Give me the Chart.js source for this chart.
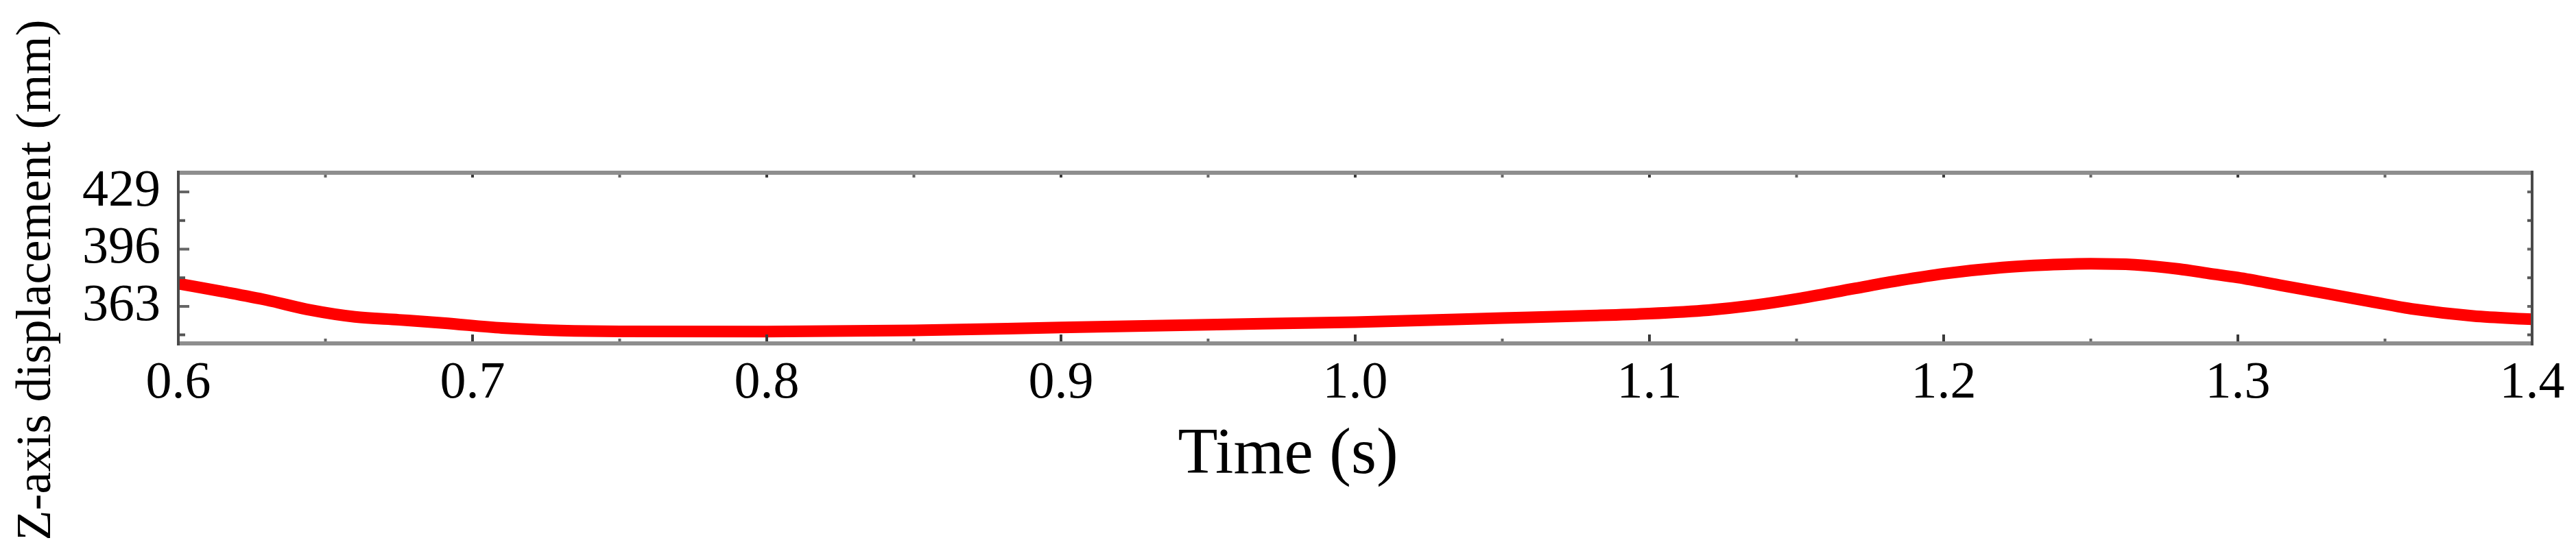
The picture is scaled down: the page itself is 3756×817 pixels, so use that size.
<!DOCTYPE html>
<html>
<head>
<meta charset="utf-8">
<title>Z-axis displacement</title>
<script src="https://cdn.jsdelivr.net/npm/chart.js@4.4.1/dist/chart.umd.min.js"></script>
<style>
    html, body { margin: 0; padding: 0; background: #fff; }
    #wrap { width: 3756px; height: 817px; }
</style>
</head>
<body>
<div id="wrap"><canvas id="chart" width="3756" height="817"></canvas></div>
<script>
// Values
const timeValues = [0.6, 0.615, 0.63, 0.645, 0.66, 0.675, 0.69, 0.71, 0.73, 0.75,
    0.8, 0.85, 0.9, 0.95, 1.0, 1.05, 1.08, 1.1, 1.12, 1.135, 1.15, 1.17, 1.185,
    1.2, 1.22, 1.235, 1.25, 1.265, 1.28, 1.29, 1.3, 1.315, 1.33, 1.345, 1.36, 1.38, 1.4];
const zDisplacement = [376.1, 371.5, 366.6, 360.8, 356.9, 355.2, 353.4, 350.5, 349.0, 348.5,
    348.4, 349.1, 350.8, 352.4, 353.9, 356.2, 357.6, 358.8, 360.8, 363.5, 367.3, 373.4, 377.9,
    381.8, 385.4, 386.9, 387.6, 387.0, 384.5, 382.0, 379.6, 375.0, 370.4, 365.8, 361.3, 357.4, 355.5];

const xTickValues = [0.6, 0.7, 0.8, 0.9, 1.0, 1.1, 1.2, 1.3, 1.4];
const xMinorTicks = [0.65, 0.75, 0.85, 0.95, 1.05, 1.15, 1.25, 1.35];
const yTickValues = [363, 396, 429];
const yMinorTicks = [346.5, 379.5, 412.5];

const serif = 'Liberation Serif';

// Mathematica-like frame with inward ticks on all four sides
const framePlugin = {
    id: 'frame',
    afterDatasetsDraw(chart) {
        const { ctx, chartArea: a, scales } = chart;
        const x = scales.x;
        const y = scales.y;
        ctx.save();
        ctx.lineWidth = 4;

        const vTick = (v, lenBottom, lenTop, color) => {
            const px = x.getPixelForValue(v);
            ctx.strokeStyle = color;
            ctx.beginPath();
            ctx.moveTo(px, a.bottom);
            ctx.lineTo(px, a.bottom - lenBottom);
            ctx.moveTo(px, a.top);
            ctx.lineTo(px, a.top + lenTop);
            ctx.stroke();
        };
        const hTick = (v, lenLeft, lenRight, color) => {
            const py = y.getPixelForValue(v);
            ctx.strokeStyle = color;
            ctx.beginPath();
            ctx.moveTo(a.left, py);
            ctx.lineTo(a.left + lenLeft, py);
            ctx.moveTo(a.right, py);
            ctx.lineTo(a.right - lenRight, py);
            ctx.stroke();
        };
        xTickValues.forEach(v => vTick(v, 13, 7, '#3a3a3a'));
        xMinorTicks.forEach(v => vTick(v, 7, 7, '#666'));
        yTickValues.forEach(v => hTick(v, 16, 7, '#666'));
        yMinorTicks.forEach(v => hTick(v, 10, 7, '#555'));

        // frame
        ctx.strokeStyle = '#8e8e8e';
        ctx.lineWidth = 6;
        ctx.beginPath();
        ctx.moveTo(a.left, a.top);
        ctx.lineTo(a.right, a.top);
        ctx.moveTo(a.left, a.bottom);
        ctx.lineTo(a.right, a.bottom);
        ctx.stroke();
        ctx.strokeStyle = '#4a4a4a';
        ctx.lineWidth = 4;
        ctx.beginPath();
        ctx.moveTo(a.left, a.top - 3);
        ctx.lineTo(a.left, a.bottom + 3);
        ctx.moveTo(a.right, a.top - 3);
        ctx.lineTo(a.right, a.bottom + 3);
        ctx.stroke();
        ctx.restore();
    }
};

const points = timeValues.map((t, i) => ({ x: t, y: zDisplacement[i] }));

new Chart(document.getElementById('chart'), {
    type: 'line',
    data: {
        datasets: [{
            data: points,
            borderColor: '#ff0000',
            borderWidth: 17,
            pointRadius: 0,
            cubicInterpolationMode: 'monotone',
            clip: 0,
            fill: false
        }]
    },
    options: {
        responsive: false,
        animation: false,
        devicePixelRatio: 1,
        layout: { padding: 0 },
        scales: {
            x: {
                type: 'linear',
                position: 'bottom',
                min: 0.6,
                max: 1.4,
                afterBuildTicks: s => { s.ticks = xTickValues.map(v => ({ value: v })); },
                afterFit: s => { s.height = 107; },
                ticks: {
                    color: '#000',
                    padding: 5,
                    maxRotation: 0,
                    autoSkip: false,
                    font: { family: serif, size: 76 },
                    callback: v => Number(v).toFixed(1)
                },
                grid: { display: false },
                border: { display: false }
            },
            xTop: {
                type: 'linear',
                position: 'top',
                min: 0.6,
                max: 1.4,
                afterFit: s => { s.height = 252; },
                ticks: { display: false },
                grid: { display: false },
                border: { display: false }
            },
            y: {
                type: 'linear',
                position: 'left',
                min: 341.6,
                max: 440.1,
                afterBuildTicks: s => { s.ticks = yTickValues.map(v => ({ value: v })); },
                afterFit: s => { s.width = 152.6; },
                ticks: {
                    color: '#000',
                    padding: 18,
                    autoSkip: false,
                    font: { family: serif, size: 76 },
                    callback: v => String(v)
                },
                grid: { display: false },
                border: { display: false }
            },
            yRight: {
                type: 'linear',
                position: 'right',
                min: 341.6,
                max: 440.1,
                afterFit: s => { s.width = 64; },
                ticks: { display: false },
                grid: { display: false },
                border: { display: false }
            }
        },
        plugins: {
            legend: { display: false },
            tooltip: { enabled: false },
            title: {
                display: true,
                text: 'Time (s)',
                position: 'bottom',
                color: '#000',
                font: { family: serif, size: 95, weight: 'normal' },
                padding: { top: 0, bottom: 95 }
            },
            subtitle: {
                display: true,
                text: 'Z-axis displacement (mm)',
                position: 'left',
                color: '#000',
                font: { family: serif, size: 72, weight: 'normal' },
                padding: 10.5
            }
        }
    },
    plugins: [framePlugin]
});
</script>
</body>
</html>
